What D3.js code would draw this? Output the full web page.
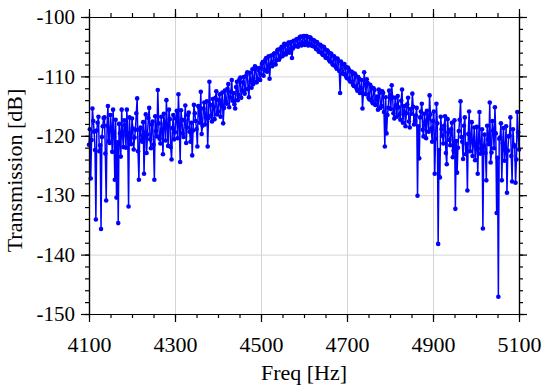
<!DOCTYPE html>
<html>
<head>
<meta charset="utf-8">
<script src="https://cdn.jsdelivr.net/npm/d3@7/dist/d3.min.js"></script>
<style>
  body { margin: 0; background: #fff; }
  .grid line { stroke: #d4d4d4; stroke-width: 1; }
  .grid path { display: none; }
  .axis path, .axis line { stroke: #000; stroke-width: 1.2; }
</style>
</head>
<body>
<div id="chart"></div>
<script>
// Measured transmission spectrum, one sample every 2 Hz from 4100 Hz
var freqStart = 4100;
var freqStep = 2;

// 20 samples (40 Hz) per row
var transmission = [
  -121.5, -118.9, -127.2, -120.7, -115.4, -117.5, -119.3, -122.4, -134.1, -119.1, -117.8, -116.8, -122.6, -121.6, -135.7, -120.2, -118.4, -117.0, -116.9, -123.0,
  -130.9, -118.3, -115.0, -120.9, -121.2, -116.5, -118.7, -122.7, -115.6, -119.4, -127.4, -117.3, -130.4, -121.1, -134.7, -118.0, -119.6, -123.5, -115.6, -120.0,
  -121.9, -117.4, -118.2, -122.0, -115.6, -119.6, -131.9, -116.9, -120.4, -121.4, -117.1, -118.8, -122.3, -120.3, -119.0, -116.2, -113.7, -122.6, -127.4, -119.0,
  -118.6, -120.8, -121.0, -117.7, -126.4, -119.5, -116.4, -122.9, -119.8, -117.0, -115.3, -120.6, -122.1, -118.1, -117.6, -121.5, -127.4, -116.7, -119.2, -120.1,
  -112.3, -117.9, -120.5, -121.3, -116.8, -119.0, -123.1, -116.3, -118.0, -120.8, -114.0, -118.5, -121.7, -115.6, -117.2, -121.9, -124.0, -118.7, -116.5, -120.6,
  -119.4, -117.1, -115.8, -120.4, -113.0, -118.2, -124.4, -115.7, -117.3, -119.6, -120.2, -117.4, -114.9, -121.2, -118.6, -116.5, -116.1, -119.3, -121.0, -117.8,
  -123.3, -119.1, -114.8, -116.2, -117.5, -118.9, -121.8, -115.0, -115.2, -117.8, -112.6, -119.7, -118.3, -115.4, -114.4, -118.1, -116.9, -114.2, -121.8, -117.0,
  -110.9, -114.8, -116.6, -117.6, -113.8, -115.1, -117.2, -113.6, -112.5, -116.4, -115.9, -114.0, -113.0, -116.8, -114.7, -112.7, -117.9, -115.3, -112.4, -114.1,
  -114.6, -112.1, -111.3, -115.2, -113.5, -112.6, -110.6, -114.1, -112.8, -114.7, -115.4, -111.8, -110.9, -114.0, -113.1, -110.5, -110.2, -113.6, -112.4, -111.0,
  -110.1, -112.9, -112.2, -109.8, -109.3, -112.1, -113.5, -109.4, -110.8, -111.9, -108.8, -111.3, -110.9, -108.3, -108.5, -111.0, -110.4, -108.9, -108.6, -110.6,
  -109.7, -107.9, -107.6, -109.9, -108.9, -107.2, -106.9, -109.2, -108.5, -106.6, -110.4, -108.1, -106.5, -108.3, -107.8, -106.2, -106.1, -108.0, -107.3, -105.6,
  -105.5, -107.2, -106.8, -105.3, -105.0, -106.6, -106.1, -104.5, -104.7, -106.3, -105.7, -104.6, -104.3, -106.0, -105.4, -104.2, -106.9, -105.3, -104.0, -104.9,
  -104.9, -103.8, -103.7, -105.0, -104.6, -103.4, -103.3, -104.8, -104.3, -103.3, -103.2, -104.7, -104.2, -103.2, -103.4, -104.8, -104.5, -103.4, -103.6, -104.8,
  -104.9, -103.9, -104.0, -105.1, -105.4, -104.2, -104.5, -105.8, -105.9, -104.7, -104.9, -106.2, -106.4, -105.0, -105.3, -106.8, -106.9, -105.6, -105.8, -107.2,
  -107.5, -106.1, -106.3, -107.9, -108.1, -106.6, -106.9, -108.4, -108.7, -107.0, -107.4, -109.1, -112.8, -107.5, -108.0, -109.5, -109.6, -107.9, -108.4, -110.0,
  -110.3, -108.5, -108.8, -110.7, -110.9, -109.2, -109.3, -111.4, -111.6, -109.5, -109.8, -112.0, -112.4, -110.1, -110.4, -112.8, -112.0, -110.6, -115.4, -112.9,
  -109.3, -111.3, -113.0, -110.5, -111.1, -113.6, -113.9, -111.4, -111.8, -114.2, -114.5, -112.0, -112.3, -114.8, -113.9, -113.4, -115.6, -112.2, -112.7, -115.3,
  -115.0, -112.5, -112.8, -116.0, -121.8, -113.5, -119.6, -116.5, -115.3, -112.4, -113.2, -115.5, -111.5, -113.5, -116.2, -117.1, -113.6, -114.9, -116.8, -113.3,
  -115.2, -116.4, -117.3, -114.1, -112.2, -117.8, -116.0, -115.0, -118.4, -116.2, -114.7, -113.6, -117.6, -118.6, -115.5, -116.3, -112.9, -115.1, -118.1, -117.5,
  -116.6, -115.3, -130.1, -118.4, -123.8, -116.9, -115.9, -114.6, -119.0, -120.1, -116.3, -117.7, -120.4, -115.8, -117.2, -119.3, -113.2, -116.4, -118.8, -121.0,
  -117.5, -115.9, -126.4, -120.5, -114.6, -117.9, -138.2, -122.4, -127.0, -116.8, -118.9, -120.0, -121.3, -118.3, -116.7, -122.9, -124.8, -117.2, -119.4, -120.7,
  -121.6, -118.9, -117.8, -123.6, -122.5, -117.4, -132.3, -120.9, -126.2, -122.0, -119.2, -117.3, -114.2, -120.2, -121.0, -123.9, -118.3, -116.9, -123.1, -121.4,
  -129.2, -119.7, -115.9, -122.6, -120.7, -117.7, -123.4, -121.2, -118.6, -124.1, -121.9, -118.5, -126.4, -120.9, -116.0, -123.0, -122.2, -118.9, -135.6, -121.7,
  -119.8, -122.9, -127.5, -118.3, -120.6, -121.4, -114.4, -124.5, -122.8, -117.5, -119.1, -122.1, -115.2, -119.6, -133.0, -123.7, -147.1, -120.5, -120.3, -117.9,
  -127.5, -121.2, -118.7, -124.2, -122.4, -118.4, -129.6, -122.5, -120.1, -120.0, -116.9, -123.4, -127.7, -118.9, -121.5, -121.8, -127.9, -124.0, -116.0, -119.4,
  -122.3
];

var xTickValues = [4100, 4300, 4500, 4700, 4900, 5100];
var xMinorTicks = d3.range(4100, 5101, 50);
var yTickValues = [-100, -110, -120, -130, -140, -150];
var yMinorTicks = d3.range(-150, -99, 2);

var serif = "'Liberation Serif', 'Times New Roman', serif";

var svgWidth = 550;
var svgHeight = 391;

var margin = { top: 17, right: 31, bottom: 77, left: 89 };
var width = svgWidth - margin.left - margin.right;
var height = svgHeight - margin.top - margin.bottom;

var svg = d3.select("#chart")
  .append("svg")
  .attr("width", svgWidth)
  .attr("height", svgHeight);

var chartGroup = svg.append("g")
  .attr("transform", `translate(${margin.left}, ${margin.top})`);

var data = transmission.map(function(v, i) {
  return { freq: freqStart + i * freqStep, value: v };
});

var xScale = d3.scaleLinear().domain([4100, 5100]).range([0, width]);
var yScale = d3.scaleLinear().domain([-150, -100]).range([height, 0]);

// grid lines
chartGroup.append("g")
  .attr("class", "grid")
  .attr("transform", `translate(0, ${height})`)
  .call(d3.axisBottom(xScale).tickValues(xTickValues.slice(1, -1)).tickSize(-height).tickFormat(""));

chartGroup.append("g")
  .attr("class", "grid")
  .call(d3.axisLeft(yScale).tickValues(yTickValues.slice(1, -1)).tickSize(-width).tickFormat(""));

// the trace
var line = d3.line()
  .x(d => xScale(d.freq))
  .y(d => yScale(d.value));

chartGroup.append("path")
  .datum(data)
  .attr("fill", "none")
  .attr("stroke", "#0000ff")
  .attr("stroke-width", 1.5)
  .attr("d", line);

chartGroup.selectAll("circle")
  .data(data)
  .enter()
  .append("circle")
  .attr("cx", d => xScale(d.freq))
  .attr("cy", d => yScale(d.value))
  .attr("r", 2.3)
  .attr("fill", "#0000ff");

// minor ticks, all four sides, pointing out
chartGroup.append("g").attr("class", "axis")
  .attr("transform", `translate(0, ${height})`)
  .call(d3.axisBottom(xScale).tickValues(xMinorTicks).tickSize(4).tickSizeOuter(0).tickFormat(""));
chartGroup.append("g").attr("class", "axis")
  .call(d3.axisTop(xScale).tickValues(xMinorTicks).tickSize(4).tickSizeOuter(0).tickFormat(""));
chartGroup.append("g").attr("class", "axis")
  .call(d3.axisLeft(yScale).tickValues(yMinorTicks).tickSize(4).tickSizeOuter(0).tickFormat(""));
chartGroup.append("g").attr("class", "axis")
  .attr("transform", `translate(${width}, 0)`)
  .call(d3.axisRight(yScale).tickValues(yMinorTicks).tickSize(4).tickSizeOuter(0).tickFormat(""));

// major ticks and labels
var bottomAxis = chartGroup.append("g").attr("class", "axis")
  .attr("transform", `translate(0, ${height})`)
  .call(d3.axisBottom(xScale).tickValues(xTickValues).tickSize(8).tickSizeOuter(0).tickPadding(14).tickFormat(d3.format("d")));
bottomAxis.selectAll("text")
  .style("font-family", serif)
  .style("font-size", "22px")
  .style("fill", "#000");

chartGroup.append("g").attr("class", "axis")
  .call(d3.axisTop(xScale).tickValues(xTickValues).tickSize(8).tickSizeOuter(0).tickFormat(""));

var leftAxis = chartGroup.append("g").attr("class", "axis")
  .call(d3.axisLeft(yScale).tickValues(yTickValues).tickSize(8).tickSizeOuter(0).tickPadding(6).tickFormat(d => d3.format("d")(d).replace("\u2212", "-")));
leftAxis.selectAll("text")
  .style("font-family", serif)
  .style("font-size", "21px")
  .style("fill", "#000");

chartGroup.append("g").attr("class", "axis")
  .attr("transform", `translate(${width}, 0)`)
  .call(d3.axisRight(yScale).tickValues(yTickValues).tickSize(8).tickSizeOuter(0).tickFormat(""));

// axis titles
chartGroup.append("text")
  .attr("x", width / 2)
  .attr("y", height + 66)
  .attr("text-anchor", "middle")
  .style("font-family", serif)
  .style("font-size", "22px")
  .text("Freq [Hz]");

chartGroup.append("text")
  .attr("transform", "rotate(-90)")
  .attr("x", -(height / 2) - 5)
  .attr("y", 22 - margin.left)
  .attr("text-anchor", "middle")
  .style("font-family", serif)
  .style("font-size", "22px")
  .text("Transmission [dB]");
</script>
</body>
</html>
